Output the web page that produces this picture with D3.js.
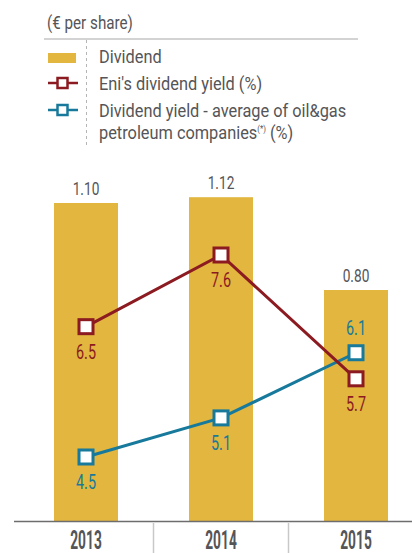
<!DOCTYPE html>
<html lang="en">
<head>
<meta charset="utf-8">
<title>Eni dividend and yield</title>
<style>
  body { margin: 0; background: #fff; }
  svg text { font-family: Roboto, "Liberation Sans", sans-serif; }
</style>
</head>
<body>
<script src="https://cdn.jsdelivr.net/npm/d3@7"></script>
<script>

// chart data
var years = ["2013", "2014", "2015"];
var dividend = [1.10, 1.12, 0.80];
var eniYield = [6.5, 7.6, 5.7];
var peerYield = [4.5, 5.1, 6.1];

var legendLabels = ["Dividend", "Eni's dividend yield (%)", "Dividend yield - average of oil&gas"];

var width = 412, height = 553;
var gold = "#e2b63f", red = "#8c1b21", blue = "#17799b", grey = "#555557";

var svg = d3.select("body").append("svg")
    .attr("width", width)
    .attr("height", height);

// squeeze text horizontally, the original uses a condensed face
function condense(sel, k) {
  sel.each(function() {
    var w = this.getComputedTextLength();
    d3.select(this).attr("textLength", w * k).attr("lengthAdjust", "spacingAndGlyphs");
  });
}

// scales
var x = d3.scalePoint().domain(years).range([86, 356]);
var y = d3.scaleLinear().domain([0, 1.1]).range([522, 203]);
var yy = d3.scaleLinear().domain([4.5, 7.6]).range([457, 255]);
var barW = 64;

// bars
svg.selectAll(".bar")
    .data(dividend)
  .enter().append("rect")
    .attr("class", "bar")
    .attr("x", function(d, i) { return x(years[i]) - barW / 2; })
    .attr("width", barW)
    .attr("y", function(d) { return y(d); })
    .attr("height", function(d) { return y(0) - y(d); })
    .attr("fill", gold);

svg.selectAll(".barlabel")
    .data(dividend)
  .enter().append("text")
    .attr("class", "barlabel")
    .attr("x", function(d, i) { return x(years[i]); })
    .attr("y", function(d) { return y(d) - 8; })
    .attr("text-anchor", "middle")
    .attr("font-size", 19)
    .attr("fill", grey)
    .text(function(d) { return d.toFixed(2); })
    .call(condense, 0.72);

// x axis: baseline, separators and year labels
svg.append("line")
    .attr("x1", 14).attr("x2", width)
    .attr("y1", y(0) - 0.5).attr("y2", y(0) - 0.5)
    .attr("stroke", "#6d6d6d").attr("stroke-width", 1.5);

var seps = [];
for (var i = 0; i < years.length - 1; i++) seps.push((x(years[i]) + x(years[i + 1])) / 2);
svg.selectAll(".sep")
    .data(seps)
  .enter().append("line")
    .attr("class", "sep")
    .attr("x1", function(d) { return d; }).attr("x2", function(d) { return d; })
    .attr("y1", y(0) + 1).attr("y2", height)
    .attr("stroke", "#c8c8c8").attr("stroke-width", 1.5);

svg.selectAll(".year")
    .data(years)
  .enter().append("text")
    .attr("class", "year")
    .attr("x", function(d) { return x(d); })
    .attr("y", 549)
    .attr("text-anchor", "middle")
    .attr("font-size", 25)
    .attr("font-weight", "bold")
    .attr("fill", grey)
    .text(function(d) { return d; })
    .call(condense, 0.55);

// yield lines
var line = d3.line()
    .x(function(d, i) { return x(years[i]); })
    .y(function(d) { return yy(d); });

var series = [
  { key: "peer", values: peerYield, color: blue },
  { key: "eni", values: eniYield, color: red }
];

series.forEach(function(s) {
  svg.append("path")
      .datum(s.values)
      .attr("d", line)
      .attr("fill", "none")
      .attr("stroke", s.color)
      .attr("stroke-width", 3);
});

series.forEach(function(s) {
  svg.selectAll(".m-" + s.key)
      .data(s.values)
    .enter().append("rect")
      .attr("class", "m-" + s.key)
      .attr("x", function(d, i) { return x(years[i]) - 7; })
      .attr("y", function(d) { return yy(d) - 7; })
      .attr("width", 14).attr("height", 14)
      .attr("fill", "#fff")
      .attr("stroke", s.color)
      .attr("stroke-width", 3);

  svg.selectAll(".l-" + s.key)
      .data(s.values)
    .enter().append("text")
      .attr("class", "l-" + s.key)
      .attr("x", function(d, i) { return x(years[i]); })
      .attr("y", function(d, i) {
        // the peer label sits above its marker where it tops Eni's yield
        var above = s.key == "peer" && peerYield[i] > eniYield[i];
        return above ? yy(d) - 18 : yy(d) + 32;
      })
      .attr("text-anchor", "middle")
      .attr("font-size", 20)
      .attr("fill", s.color)
      .text(function(d) { return d.toFixed(1); })
      .call(condense, 0.72);
});

// legend
svg.append("text")
    .attr("x", 47).attr("y", 29)
    .attr("font-size", 19)
    .attr("fill", grey)
    .text("(\u20ac per share)")
    .call(condense, 0.8);

svg.append("line")
    .attr("x1", 44).attr("x2", 358)
    .attr("y1", 39).attr("y2", 39)
    .attr("stroke", "#c4c4c4").attr("stroke-width", 1.5);

svg.append("line")
    .attr("x1", 86.5).attr("x2", 86.5)
    .attr("y1", 40).attr("y2", 148)
    .attr("stroke", "#b5b5b5").attr("stroke-width", 1)
    .attr("stroke-dasharray", "3,3");

svg.append("rect")
    .attr("x", 48).attr("y", 53)
    .attr("width", 28).attr("height", 10)
    .attr("fill", gold);

[{ c: red, y: 83 }, { c: blue, y: 110 }].forEach(function(m) {
  svg.append("line")
      .attr("x1", 48).attr("x2", 78)
      .attr("y1", m.y).attr("y2", m.y)
      .attr("stroke", m.c).attr("stroke-width", 2.5);
  svg.append("rect")
      .attr("x", 57.5).attr("y", m.y - 5)
      .attr("width", 10).attr("height", 10)
      .attr("fill", "#fff")
      .attr("stroke", m.c).attr("stroke-width", 2.5);
});

var legY = [63, 90, 117];
legendLabels.forEach(function(t, i) {
  svg.append("text")
      .attr("x", 99).attr("y", legY[i])
      .attr("font-size", 19)
      .attr("fill", grey)
      .text(t)
      .call(condense, 0.86);
});

var last = svg.append("text")
    .attr("x", 99).attr("y", 139)
    .attr("font-size", 19)
    .attr("fill", grey);
last.append("tspan").text("petroleum companies");
last.append("tspan").attr("dy", -7).attr("font-size", 9).text("(*)");
last.append("tspan").attr("dy", 7).text(" (%)");
last.call(condense, 0.86);

</script>
</body>
</html>
